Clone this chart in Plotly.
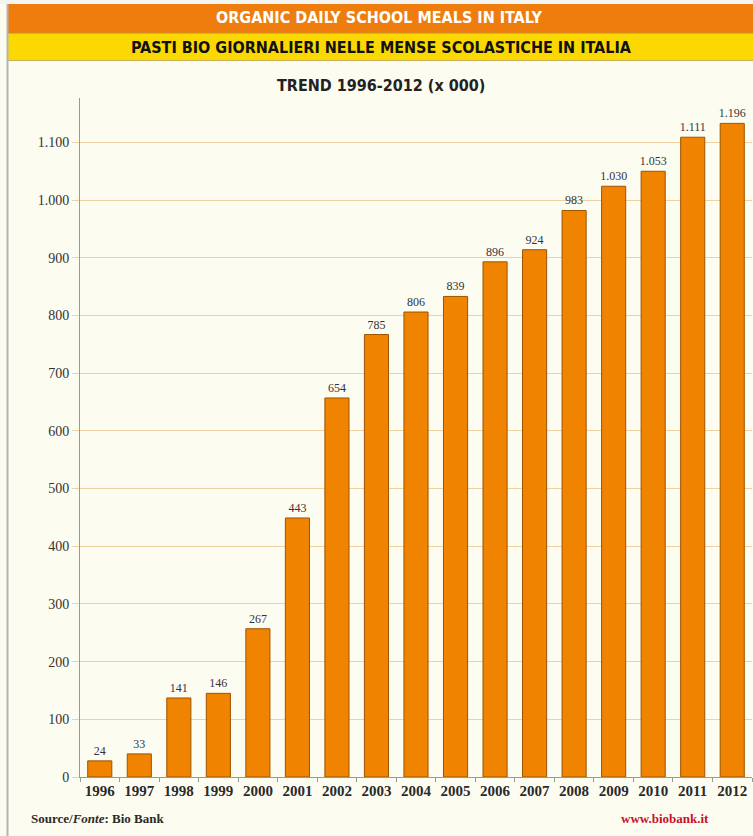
import plotly.graph_objects as go

# ---- data ----
years = ["1996", "1997", "1998", "1999", "2000", "2001", "2002", "2003", "2004",
         "2005", "2006", "2007", "2008", "2009", "2010", "2011", "2012"]
# bar heights as drawn on the chart (in thousands)
bar_heights = [28, 40, 137, 145, 257, 449, 657, 767, 806, 833, 893, 914, 982, 1024, 1050, 1109, 1133]
# value labels printed above the bars
value_labels = ["24", "33", "141", "146", "267", "443", "654", "785", "806", "839", "896",
                "924", "983", "1.030", "1.053", "1.111", "1.196"]
y_ticks = [0, 100, 200, 300, 400, 500, 600, 700, 800, 900, 1000, 1100]
y_tick_text = ["0", "100", "200", "300", "400", "500", "600", "700", "800", "900", "1.000", "1.100"]

title_en = "ORGANIC DAILY SCHOOL MEALS IN ITALY"
title_it = "PASTI BIO GIORNALIERI NELLE MENSE SCOLASTICHE IN ITALIA"
subtitle = "TREND 1996-2012 (x 000)"

W, H = 753, 836
L, R, T, B = 80, 1, 98, 59
PW, PH = W - L - R, H - T - B

def px(x):
    return (x - L) / PW

def py(y):
    return (H - B - y) / PH

serif = "Liberation Serif, Times New Roman, serif"
cond = "DejaVu Sans Condensed, Liberation Sans Narrow, Roboto Condensed, Roboto, sans-serif"

fig = go.Figure()
fig.add_trace(go.Bar(
    x=years, y=bar_heights, text=value_labels,
    textposition="outside", cliponaxis=False, constraintext="none",
    textfont=dict(family=serif, size=12, color="#333340"),
    marker=dict(color="#F08300", line=dict(color="#9E5400", width=1)),
    hoverinfo="skip",
))

shapes = [
    dict(type="rect", xref="paper", yref="paper", x0=px(0), x1=px(W), y0=py(4), y1=py(0),
         fillcolor="#F4F4F0", line=dict(width=0), layer="below"),
    dict(type="rect", xref="paper", yref="paper", x0=px(8), x1=px(W + 2), y0=py(33), y1=py(4),
         fillcolor="#EE7D0E", line=dict(width=0)),
    dict(type="rect", xref="paper", yref="paper", x0=px(8), x1=px(W + 2), y0=py(60), y1=py(33),
         fillcolor="#FBD800", line=dict(width=0)),
    dict(type="line", xref="paper", yref="paper", x0=px(8), x1=px(W + 2), y0=py(33), y1=py(33),
         line=dict(color="#C99020", width=1)),
    dict(type="line", xref="paper", yref="paper", x0=px(8), x1=px(W + 2), y0=py(60.5), y1=py(60.5),
         line=dict(color="#C8B060", width=1)),
    dict(type="line", xref="paper", yref="paper", x0=px(7.5), x1=px(7.5), y0=py(4), y1=py(H),
         line=dict(color="#B4B4B0", width=2)),
]

annotations = [
    dict(text="<b>" + title_en + "</b>", x=px(379), y=py(18), xref="paper", yref="paper",
         showarrow=False, font=dict(family=cond, size=16, color="#FFFFFF"), xanchor="center", yanchor="middle"),
    dict(text="<b>" + title_it + "</b>", x=px(381), y=py(47), xref="paper", yref="paper",
         showarrow=False, font=dict(family=cond, size=16, color="#111111"), xanchor="center", yanchor="middle"),
    dict(text="<b>" + subtitle + "</b>", x=px(381), y=py(85), xref="paper", yref="paper",
         showarrow=False, font=dict(family=cond, size=16, color="#222222"), xanchor="center", yanchor="middle"),
    dict(text="<b>Source/<i>Fonte</i>: Bio Bank</b>", x=px(29), y=py(818), xref="paper", yref="paper",
         showarrow=False, font=dict(family=serif, size=13, color="#2a2a2a"), xanchor="left", yanchor="middle"),
    dict(text="<b>www.biobank.it</b>", x=px(619), y=py(818), xref="paper", yref="paper",
         showarrow=False, font=dict(family=serif, size=13, color="#C8102E"), xanchor="left", yanchor="middle"),
]

fig.update_layout(
    width=W, height=H,
    margin=dict(l=L, r=R, t=T, b=B),
    paper_bgcolor="#FDFCF1", plot_bgcolor="#FDFCF1",
    bargap=0.39,
    showlegend=False,
    shapes=shapes,
    annotations=annotations,
    xaxis=dict(
        type="category", tickson="boundaries", ticks="outside", ticklen=4, tickcolor="#999999",
        showline=True, linecolor="#999999", linewidth=1, showgrid=False,
        tickfont=dict(family=serif, size=15, color="#2a2a2a"),
        tickprefix="<b>", ticksuffix="</b>", fixedrange=True,
    ),
    yaxis=dict(
        range=[0, 1177], tickvals=y_ticks, ticktext=y_tick_text,
        ticks="outside", ticklen=7, tickcolor="#EFD2A4",
        showgrid=True, gridcolor="#EFD2A4", gridwidth=1,
        showline=True, linecolor="#999999", linewidth=1, zeroline=False,
        tickfont=dict(family=serif, size=14, color="#333333"), fixedrange=True,
    ),
)

fig.write_html("out.html")
